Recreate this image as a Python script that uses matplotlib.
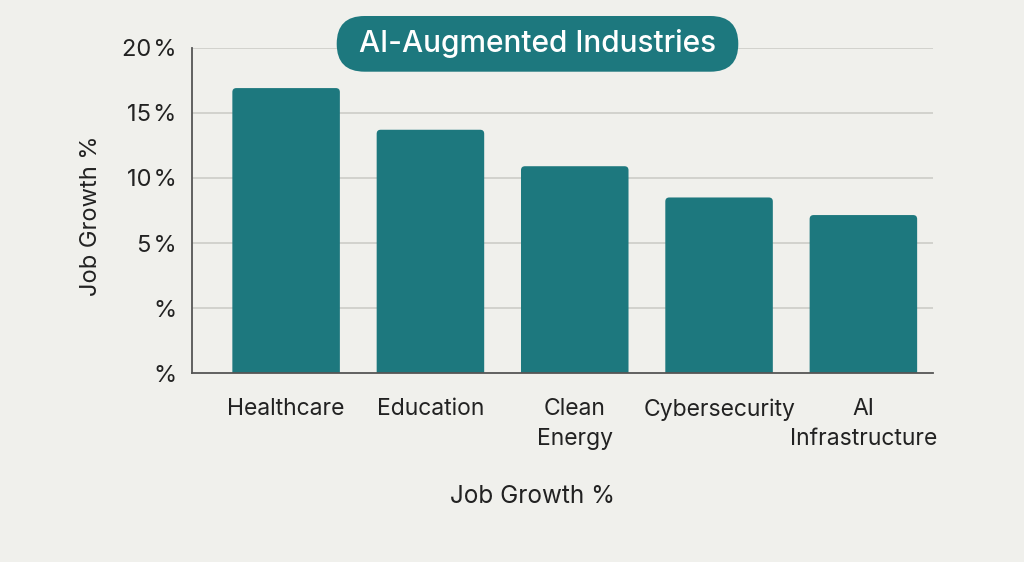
import matplotlib
matplotlib.use("Agg")
import matplotlib.pyplot as plt
from matplotlib.patches import FancyBboxPatch
import numpy as np

categories = ["Healthcare", "Education", "Clean\nEnergy", "Cybersecurity", "AI\nInfrastructure"]
values = [16.9, 13.7, 10.9, 8.5, 7.15]
tick_values = [-5, 0, 5, 10, 15, 20]
tick_labels = ["%", "%", "5\u200a%", "10\u200a%", "15\u200a%", "20\u200a%"]
title = "AI-Augmented Industries"
axis_label = "Job Growth %"

BG = "#f0f0ec"
TEAL = "#1d787e"
TXT = "#222222"

plt.rcParams["font.family"] = ["Inter", "DejaVu Sans"]

fig = plt.figure(figsize=(10.24, 5.62), dpi=100, facecolor=BG)
ax = fig.add_axes([0.1878, 0.3358, 0.9108 - 0.1878, 0.9151 - 0.3358])
ax.set_facecolor(BG)

base = tick_values[0]
x = np.arange(len(categories))
ax.set_xlim(-0.65, len(categories) - 1 + 0.48)
ax.set_ylim(base, tick_values[-1])

bars = ax.bar(x, [v - base for v in values], bottom=base, width=0.745, color=TEAL, zorder=3)

# rounded corners on bars
fig.canvas.draw()
xpp = (ax.get_xlim()[1] - ax.get_xlim()[0]) / ax.bbox.width
ypp = (ax.get_ylim()[1] - ax.get_ylim()[0]) / ax.bbox.height
for b in bars:
    bx, by, bw, bh = b.get_x(), b.get_y(), b.get_width(), b.get_height()
    b.set_visible(False)
    r = 4 * xpp
    p = FancyBboxPatch((bx, by - 6 * ypp), bw, bh + 6 * ypp,
                       boxstyle=f"round,pad=0,rounding_size={r}",
                       mutation_aspect=ypp / xpp, facecolor=TEAL,
                       edgecolor="none", zorder=3, clip_on=True)
    ax.add_patch(p)

ax.set_yticks(tick_values)
ax.set_yticklabels(tick_labels)
ax.set_xticks(x)
ax.set_xticklabels(categories, linespacing=1.45)
ax.tick_params(axis="y", length=0, pad=11.5, labelsize=17, labelcolor=TXT)
ax.tick_params(axis="x", length=0, pad=18, labelsize=16.5, labelcolor=TXT)

for yv in tick_values[1:]:
    ax.axhline(yv, color="#cfcfca", lw=1.3, zorder=1)

for s in ["top", "right"]:
    ax.spines[s].set_visible(False)
for s in ["left", "bottom"]:
    ax.spines[s].set_color("#555555")
    ax.spines[s].set_linewidth(1.3)
    ax.spines[s].set_zorder(4)

ax.set_ylabel(axis_label, fontsize=17, color=TXT)
ax.yaxis.set_label_coords(-0.122, 0.485)
ax.set_xlabel(axis_label, fontsize=17.5, color=TXT)
ax.xaxis.set_label_coords(0.46, -0.343)

# title pill
W, H = 1024, 562
bx0, bx1, by0, by1 = 336.7, 738.3, 16.0, 71.7
pill = FancyBboxPatch((bx0 / W, 1 - by1 / H), (bx1 - bx0) / W, (by1 - by0) / H,
                      boxstyle=f"round,pad=0,rounding_size={27.8 / W}",
                      mutation_aspect=W / H, facecolor=TEAL, edgecolor="none",
                      transform=fig.transFigure, zorder=10)
fig.patches.append(pill)
fig.text((bx0 + bx1) / 2 / W, 1 - (by0 + by1) / 2 / H, title, ha="center", va="center",
         color="white", fontsize=21.5, fontweight="medium", zorder=11)

fig.savefig("out.png", dpi=100, facecolor=BG)
